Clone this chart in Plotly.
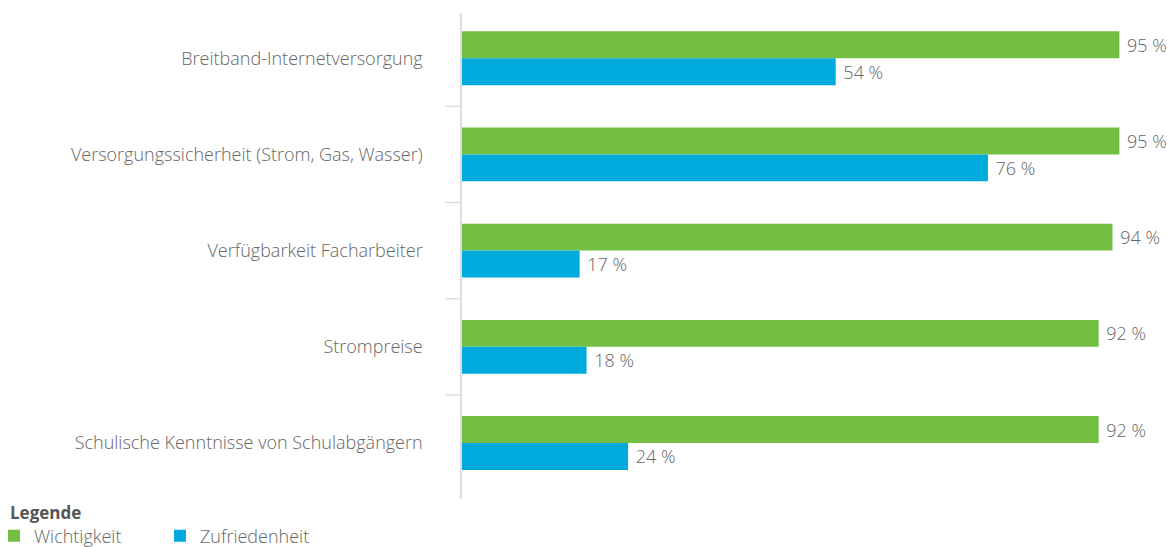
import plotly.graph_objects as go

categories = [
    "Breitband-Internetversorgung",
    "Versorgungssicherheit (Strom, Gas, Wasser)",
    "Verfügbarkeit Facharbeiter",
    "Strompreise",
    "Schulische Kenntnisse von Schulabgängern",
]
wichtigkeit = [95, 95, 94, 92, 92]
zufriedenheit = [54, 76, 17, 18, 24]
series_names = ["Wichtigkeit", "Zufriedenheit"]
legend_title = "Legende"

GREEN = "#72bf44"
BLUE = "#00aadc"
TEXT = "#666666"
FONT = "Open Sans"
WEIGHT = 300
FS = 18

W, H = 1173, 547
L, R, T, B = 462, 19, 13, 48
PW, PH = W - L - R, H - T - B

fig = go.Figure()
for name, vals, col in [(series_names[0], wichtigkeit, GREEN), (series_names[1], zufriedenheit, BLUE)]:
    fig.add_trace(go.Bar(
        y=categories, x=vals, orientation="h", name=name,
        marker=dict(color=col, line=dict(width=0)),
        text=[f"\u00a0{v} %" for v in vals], textposition="outside",
        textfont=dict(color=TEXT, size=FS, family=FONT, weight=WEIGHT),
        cliponaxis=False, hoverinfo="skip",
    ))

# boundary ticks between categories
for i in range(len(categories) - 1):
    fig.add_shape(type="line", xref="paper", yref="y",
                  x0=-17 / PW, x1=0, y0=i + 0.5, y1=i + 0.5,
                  line=dict(color="#dddddd", width=1.5))

fig.add_annotation(
    text="<b>" + legend_title + "</b>", xref="paper", yref="paper",
    x=(8 - L) / PW, y=(H - B - 512) / PH, xanchor="left", yanchor="middle",
    showarrow=False, font=dict(size=17, color="#555555", family=FONT),
)

fig.update_layout(
    width=W, height=H,
    margin=dict(l=L, r=R, t=T, b=B, autoexpand=False),
    paper_bgcolor="white", plot_bgcolor="white",
    barmode="group", bargap=0.44, bargroupgap=0,
    font=dict(family=FONT, color=TEXT, size=FS, weight=WEIGHT),
    xaxis=dict(range=[0, 100], visible=False, showgrid=False, zeroline=False),
    yaxis=dict(
        type="category", categoryorder="array", categoryarray=categories,
        range=[4.582, -0.47], showgrid=False, zeroline=False, automargin=False,
        showline=True, linecolor="#dddddd", linewidth=1.5,
        ticks="", ticklabelstandoff=34,
        tickfont=dict(size=FS, color=TEXT, family=FONT, weight=WEIGHT),
    ),
    legend=dict(
        orientation="h", xref="paper", yref="container",
        x=(-6 - L) / PW, y=0.054, xanchor="left", yanchor="top",
        font=dict(size=FS, color=TEXT, family=FONT, weight=WEIGHT),
        entrywidth=121, entrywidthmode="pixels",
        itemclick=False, itemdoubleclick=False,
        bgcolor="rgba(0,0,0,0)",
    ),
)

fig.write_html("out.html", config={"displayModeBar": False},
               post_script="document.body.style.margin='0px';")
